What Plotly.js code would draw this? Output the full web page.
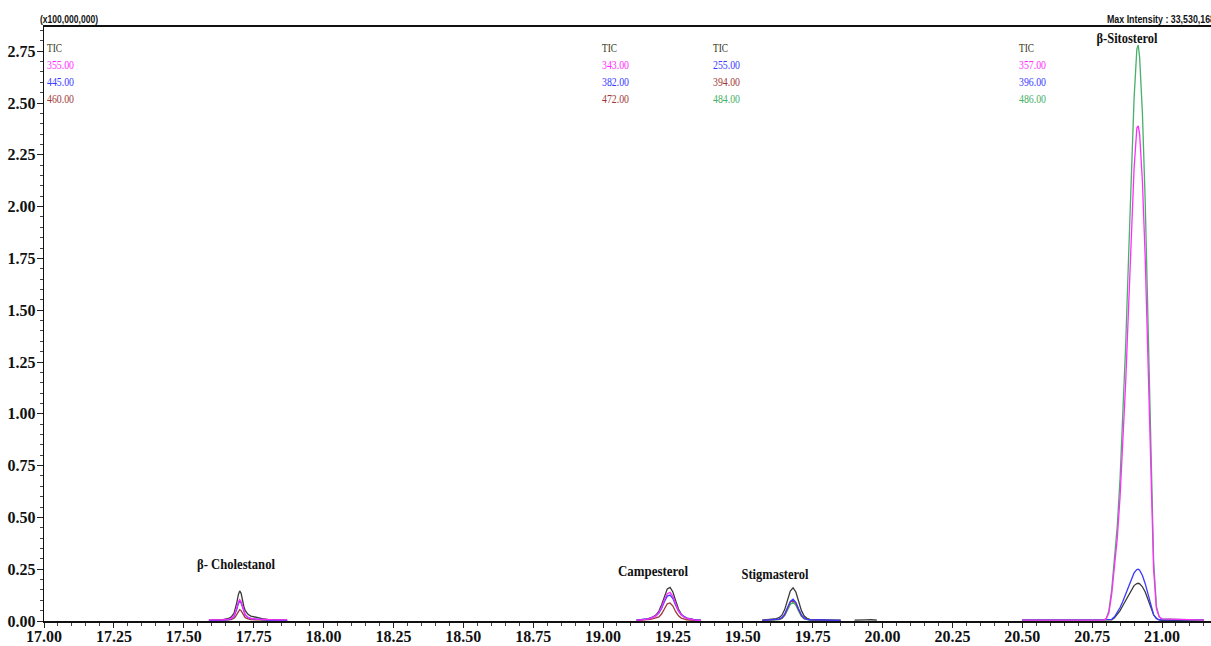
<!DOCTYPE html>
<html>
<head>
<meta charset="utf-8">
<script src="https://cdn.plot.ly/plotly-3.0.1.min.js"></script>
<style>
html,body{margin:0;padding:0;background:#fff;}
#chart{width:1211px;height:646px;}
</style>
</head>
<body>
<div id="chart"></div>
<script>
// ---------- Data (retention time in min, intensity in x100,000,000) ----------
// Segment 1 : beta-Cholestanol (TIC, 355.00, 445.00, 460.00)
const seg1X = [17.59, 17.62, 17.64, 17.66, 17.67, 17.68, 17.685, 17.69, 17.695, 17.70, 17.705, 17.71, 17.715, 17.72, 17.73, 17.74, 17.76, 17.78, 17.80, 17.83, 17.87];
const seg1TIC = [0.004, 0.005, 0.007, 0.012, 0.02, 0.038, 0.06, 0.09, 0.125, 0.145, 0.135, 0.10, 0.07, 0.05, 0.032, 0.024, 0.016, 0.011, 0.008, 0.005, 0.004];
const seg1M355 = [0.005, 0.005, 0.006, 0.009, 0.013, 0.026, 0.042, 0.065, 0.09, 0.103, 0.095, 0.07, 0.046, 0.03, 0.018, 0.013, 0.009, 0.007, 0.006, 0.005, 0.005];
const seg1M445 = [0.003, 0.003, 0.004, 0.007, 0.011, 0.022, 0.037, 0.058, 0.082, 0.095, 0.088, 0.064, 0.042, 0.028, 0.017, 0.012, 0.009, 0.006, 0.004, 0.003, 0.003];
const seg1M460 = [0.002, 0.002, 0.003, 0.005, 0.007, 0.013, 0.021, 0.033, 0.047, 0.055, 0.05, 0.036, 0.024, 0.016, 0.01, 0.007, 0.005, 0.004, 0.003, 0.002, 0.002];

// Segment 2 : Campesterol (TIC, 343.00, 382.00, 472.00)
const seg2X = [19.12, 19.14, 19.16, 19.17, 19.18, 19.19, 19.20, 19.21, 19.22, 19.23, 19.24, 19.25, 19.26, 19.27, 19.28, 19.29, 19.30, 19.31, 19.32, 19.33, 19.35];
const seg2TIC = [0.004, 0.006, 0.01, 0.015, 0.02, 0.03, 0.048, 0.08, 0.122, 0.155, 0.162, 0.14, 0.098, 0.058, 0.033, 0.02, 0.014, 0.01, 0.007, 0.005, 0.004];
const seg2M343 = [0.003, 0.005, 0.009, 0.013, 0.018, 0.026, 0.041, 0.068, 0.104, 0.132, 0.138, 0.119, 0.083, 0.05, 0.03, 0.019, 0.013, 0.009, 0.006, 0.004, 0.003];
const seg2M382 = [0.004, 0.006, 0.01, 0.014, 0.019, 0.026, 0.038, 0.062, 0.094, 0.12, 0.125, 0.108, 0.076, 0.047, 0.03, 0.02, 0.014, 0.01, 0.007, 0.005, 0.004];
const seg2M472 = [0.002, 0.003, 0.005, 0.008, 0.011, 0.014, 0.02, 0.035, 0.06, 0.083, 0.087, 0.072, 0.045, 0.025, 0.014, 0.009, 0.006, 0.004, 0.003, 0.002, 0.002];

// Segment 3 : Stigmasterol (TIC, 255.00, 394.00, 484.00)
const seg3X = [19.57, 19.59, 19.61, 19.62, 19.63, 19.64, 19.65, 19.66, 19.67, 19.68, 19.69, 19.70, 19.71, 19.72, 19.73, 19.74, 19.76, 19.78, 19.80, 19.83, 19.85];
const seg3TIC = [0.004, 0.006, 0.008, 0.011, 0.016, 0.028, 0.055, 0.10, 0.145, 0.16, 0.14, 0.095, 0.05, 0.024, 0.013, 0.008, 0.006, 0.005, 0.005, 0.004, 0.004];
const seg3M255 = [0.003, 0.004, 0.005, 0.006, 0.009, 0.016, 0.033, 0.064, 0.094, 0.105, 0.09, 0.058, 0.029, 0.014, 0.008, 0.006, 0.005, 0.004, 0.003, 0.003, 0.003];
const seg3M394 = [0.003, 0.004, 0.005, 0.006, 0.008, 0.014, 0.03, 0.06, 0.09, 0.10, 0.085, 0.054, 0.026, 0.012, 0.007, 0.005, 0.004, 0.003, 0.003, 0.003, 0.003];
const seg3M484 = [0.002, 0.003, 0.004, 0.005, 0.007, 0.012, 0.026, 0.052, 0.08, 0.09, 0.076, 0.047, 0.022, 0.01, 0.006, 0.004, 0.003, 0.003, 0.002, 0.002, 0.002];
const seg3bX = [19.90, 19.92, 19.94, 19.96, 19.98];
const seg3bTIC = [0.004, 0.006, 0.005, 0.006, 0.004];

// Segment 4 : beta-Sitosterol (TIC, 357.00, 396.00, 486.00)
const seg4X = [20.50, 20.79, 20.80, 20.81, 20.82, 20.83, 20.84, 20.85, 20.86, 20.87, 20.88, 20.89, 20.90, 20.91, 20.915, 20.92, 20.93, 20.94, 20.95, 20.96, 20.97, 20.98, 20.99, 21.00, 21.10, 21.15];
const seg4TIC = [0.003, 0.003, 0.003, 0.004, 0.005, 0.015, 0.03, 0.05, 0.075, 0.10, 0.128, 0.152, 0.171, 0.181, 0.182, 0.179, 0.165, 0.14, 0.105, 0.065, 0.03, 0.012, 0.005, 0.003, 0.003, 0.003];
const seg4M357 = [0.004, 0.004, 0.01, 0.04, 0.13, 0.25, 0.40, 0.60, 0.85, 1.15, 1.50, 1.85, 2.18, 2.38, 2.39, 2.35, 2.12, 1.75, 1.25, 0.70, 0.25, 0.06, 0.02, 0.01, 0.005, 0.004];
const seg4M396 = [0.006, 0.006, 0.006, 0.007, 0.008, 0.02, 0.04, 0.065, 0.095, 0.13, 0.17, 0.205, 0.232, 0.248, 0.25, 0.245, 0.22, 0.18, 0.13, 0.075, 0.03, 0.012, 0.006, 0.006, 0.006, 0.006];
const seg4M486 = [0.004, 0.004, 0.01, 0.05, 0.15, 0.29, 0.46, 0.69, 0.98, 1.33, 1.74, 2.15, 2.52, 2.76, 2.78, 2.72, 2.45, 2.02, 1.44, 0.80, 0.29, 0.07, 0.02, 0.01, 0.005, 0.004];

// Legend groups (ion labels) and peak names
const group1Labels = ["TIC", "355.00", "445.00", "460.00"];
const group2Labels = ["TIC", "343.00", "382.00", "472.00"];
const group3Labels = ["TIC", "255.00", "394.00", "484.00"];
const group4Labels = ["TIC", "357.00", "396.00", "486.00"];
const peakNames = ["β- Cholestanol", "Campesterol", "Stigmasterol", "β-Sitosterol"];
const yTickVals = [0, 0.25, 0.5, 0.75, 1.0, 1.25, 1.5, 1.75, 2.0, 2.25, 2.5, 2.75];
const xTickVals = [17.00, 17.25, 17.50, 17.75, 18.00, 18.25, 18.50, 18.75, 19.00, 19.25, 19.50, 19.75, 20.00, 20.25, 20.50, 20.75, 21.00];

// ---------- Styles ----------
const C = {
  tic: "#3a3a3a", mag: "#ff2cff", blue: "#3a3aff", brown: "#a03838", green: "#48b068",
  ticText: "#333311"
};
function tr(x, y, color, name) {
  return {x: x, y: y, type: "scatter", mode: "lines", name: name,
          line: {color: color, width: 1.3, shape: "linear"}, showlegend: false, hoverinfo: "x+y+name"};
}
const traces = [
  tr(seg1X, seg1TIC, C.tic, "TIC"),
  tr(seg1X, seg1M460, C.brown, "460.00"),
  tr(seg1X, seg1M445, C.blue, "445.00"),
  tr(seg1X, seg1M355, C.mag, "355.00"),

  tr(seg2X, seg2TIC, C.tic, "TIC"),
  tr(seg2X, seg2M472, C.brown, "472.00"),
  tr(seg2X, seg2M382, C.blue, "382.00"),
  tr(seg2X, seg2M343, C.mag, "343.00"),

  tr(seg3X, seg3TIC, C.tic, "TIC"),
  tr(seg3bX, seg3bTIC, C.tic, "TIC"),
  tr(seg3X, seg3M484, C.green, "484.00"),
  tr(seg3X, seg3M394, C.brown, "394.00"),
  tr(seg3X, seg3M255, C.blue, "255.00"),

  tr(seg4X, seg4TIC, C.tic, "TIC"),
  tr(seg4X, seg4M396, C.blue, "396.00"),
  tr(seg4X, seg4M486, C.green, "486.00"),
  tr(seg4X, seg4M357, C.mag, "357.00")
];

// pixel helpers for annotation placement (plot area 44..1211 x 27..621)
const PL = 44, PR = 1211, PT = 27, PB = 621;
const px = v => (v - PL) / (PR - PL);
const py = v => (PB - v) / (PB - PT);

const annotations = [];
const condenseJobs = []; // [annotationIndex, targetWidth, anchorPx, mode]
function group(labels, colors, left) {
  const rows = [48, 65, 82, 99];
  labels.forEach((t, i) => {
    condenseJobs.push([annotations.length, t === "TIC" ? 15 : 27, left, "left"]);
    annotations.push({
      text: t, xref: "paper", yref: "paper", x: px(left), y: py(rows[i]),
      xanchor: "left", yanchor: "middle", showarrow: false,
      font: {family: "Liberation Serif, Times New Roman, serif", size: 12, color: colors[i]}
    });
  });
}
group(group1Labels, [C.ticText, C.mag, C.blue, C.brown], 47);
group(group2Labels, [C.ticText, C.mag, C.blue, C.brown], 602);
group(group3Labels, [C.ticText, C.blue, C.brown, C.green], 713);
group(group4Labels, [C.ticText, C.mag, C.blue, C.green], 1019);

const peakPos = [[236, 564], [653, 571], [775, 574], [1127, 38]];
const peakWidths = [78, 70, 67, 61];
peakNames.forEach((t, i) => {
  condenseJobs.push([annotations.length, peakWidths[i], peakPos[i][0], "center"]);
  annotations.push({
    text: t, xref: "paper", yref: "paper", x: px(peakPos[i][0]), y: py(peakPos[i][1]),
    xanchor: "center", yanchor: "middle", showarrow: false,
    font: {family: "Liberation Serif, Times New Roman, serif", size: 15, color: "#111", weight: "bold"}
  });
});

condenseJobs.push([annotations.length, 58, 40, "left"]);
annotations.push({
  text: "(x100,000,000)", xref: "paper", yref: "paper", x: px(40), y: py(19),
  xanchor: "left", yanchor: "middle", showarrow: false,
  font: {family: "Liberation Sans, Arial, sans-serif", size: 10, color: "#111", weight: "bold"}
});
condenseJobs.push([annotations.length, 108, 1107, "left"]);
annotations.push({
  text: "Max Intensity : 33,530,168", xref: "paper", yref: "paper", x: px(1107), y: py(19),
  xanchor: "left", yanchor: "middle", showarrow: false,
  font: {family: "Liberation Sans, Arial, sans-serif", size: 10, color: "#111", weight: "bold"}
});

const tickFont = {family: "Liberation Serif, Times New Roman, serif", size: 16, color: "#111", weight: "bold"};
const layout = {
  width: 1211, height: 646,
  margin: {l: PL, r: 1211 - PR, t: PT, b: 646 - PB, pad: 0},
  paper_bgcolor: "#fff", plot_bgcolor: "#fff",
  showlegend: false,
  xaxis: {
    range: [17.0, 17.0 + (PR - PL) / 279.5],
    tickmode: "array", tickvals: xTickVals, ticktext: xTickVals.map(v => v.toFixed(2)),
    ticks: "outside", ticklen: 5, tickwidth: 1, tickcolor: "#222",
    ticklabelstandoff: -5,
    minor: {dtick: 0.05, ticks: "outside", ticklen: 3, tickwidth: 1, tickcolor: "#444", showgrid: false},
    showline: true, linecolor: "#111", linewidth: 1.6, mirror: true,
    showgrid: false, zeroline: false, tickfont: tickFont, automargin: false
  },
  yaxis: {
    range: [0, (PB - PT) / 207.2],
    tickmode: "array", tickvals: yTickVals, ticktext: yTickVals.map(v => v.toFixed(2)),
    ticks: "outside", ticklen: 6, tickwidth: 1, tickcolor: "#222",
    ticklabelstandoff: -2,
    minor: {dtick: 0.05, ticks: "outside", ticklen: 3, tickwidth: 1, tickcolor: "#444", showgrid: false},
    showline: true, linecolor: "#111", linewidth: 1.2,
    showgrid: false, zeroline: false, tickfont: tickFont, automargin: false
  },
  annotations: annotations
};
Plotly.newPlot("chart", traces, layout, {displayModeBar: false, staticPlot: true}).then(gd => {
  // condense serif/narrow label text to the widths seen in the reference
  condenseJobs.forEach(([idx, w, anchor, mode]) => {
    const g = gd.querySelector('.annotation[data-index="' + idx + '"]');
    if (!g) return;
    const el = g.querySelector('text.annotation-text');
    if (!el) return;
    el.setAttribute('textLength', w);
    el.setAttribute('lengthAdjust', 'spacingAndGlyphs');
    const r = el.getBoundingClientRect();
    const cur = mode === 'left' ? r.left : r.left + r.width / 2;
    const dx = anchor - cur;
    const x0 = parseFloat(el.getAttribute('x') || '0');
    el.setAttribute('x', x0 + dx);
  });
});
</script>
</body>
</html>
